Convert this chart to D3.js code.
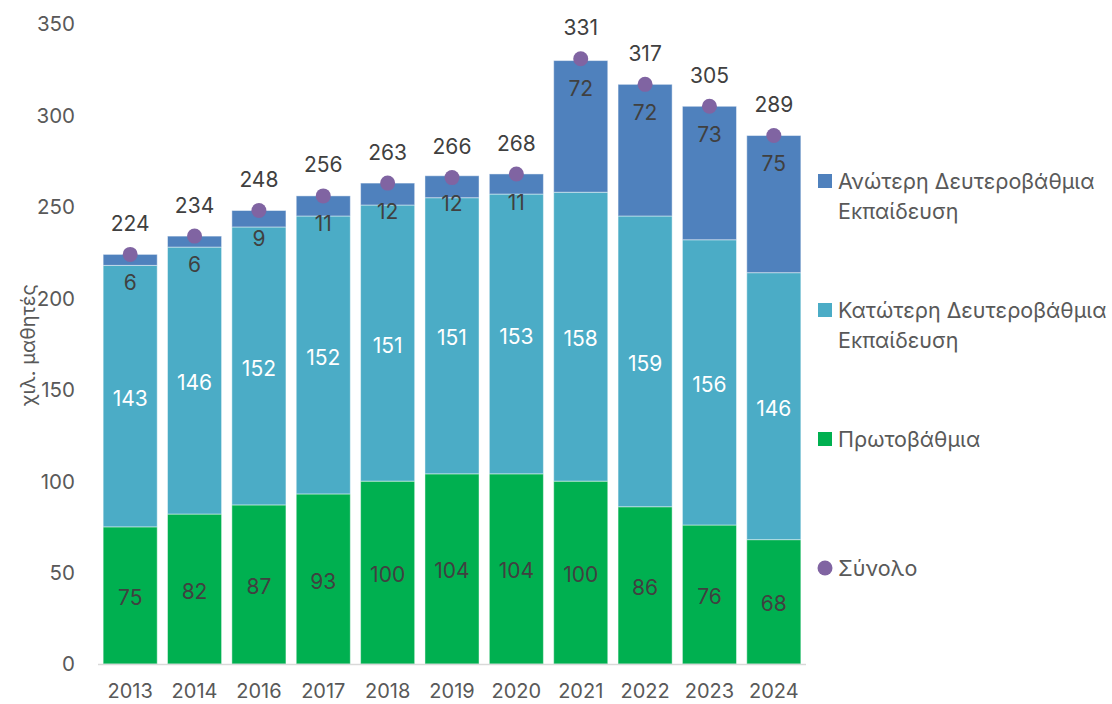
<!DOCTYPE html>
<html>
<head>
<meta charset="utf-8">
<script src="https://cdn.jsdelivr.net/npm/d3@7"></script>
<style>
  html, body { margin: 0; padding: 0; background: #ffffff; }
  svg { display: block; }
  text { font-family: Inter, "Open Sans", sans-serif; }
</style>
</head>
<body>
<svg id="chart" width="1112" height="704"></svg>
<script>
// Students by education level (thousands)
const years = ["2013", "2014", "2016", "2017", "2018", "2019", "2020", "2021", "2022", "2023", "2024"];
const primary = [75, 82, 87, 93, 100, 104, 104, 100, 86, 76, 68];
const lowerSecondary = [143, 146, 152, 152, 151, 151, 153, 158, 159, 156, 146];
const upperSecondary = [6, 6, 9, 11, 12, 12, 11, 72, 72, 73, 75];
const totals = [224, 234, 248, 256, 263, 266, 268, 331, 317, 305, 289];
const yTicks = [0, 50, 100, 150, 200, 250, 300, 350];

const colors = { upper: "#4f81bd", lower: "#4bacc6", primary: "#00b050", total: "#8064a2" };

const rows = years.map((y, i) => ({
  year: y, primary: primary[i], lower: lowerSecondary[i], upper: upperSecondary[i], total: totals[i]
}));

const svg = d3.select("#chart");
const x = d3.scaleBand().domain(years).range([98, 806]).paddingInner(0.16).paddingOuter(0.08);
const y = d3.scaleLinear().domain([0, 350]).range([664, 24]);

const layers = d3.stack().keys(["primary", "lower", "upper"])(rows);

// Y tick labels (no axis line)
svg.append("g").selectAll("text").data(yTicks).join("text")
  .attr("x", 75).attr("y", d => y(d)).attr("dy", "0.36em")
  .attr("text-anchor", "end").attr("font-size", 20.5).attr("fill", "#595959")
  .text(d => d);

// Y axis title
svg.append("text")
  .attr("transform", "translate(28,345) rotate(-90)")
  .attr("dy", "0.36em")
  .attr("text-anchor", "middle").attr("font-size", 20).attr("fill", "#595959")
  .text("χιλ. μαθητές");

// Stacked bars
const layerG = svg.append("g").selectAll("g").data(layers).join("g")
  .attr("fill", d => colors[d.key]);
layerG.selectAll("rect").data(d => d).join("rect")
  .attr("x", d => x(d.data.year))
  .attr("y", d => y(d[1]))
  .attr("width", x.bandwidth())
  .attr("height", d => y(d[0]) - y(d[1]))
  .attr("stroke", "#ffffff").attr("stroke-opacity", 0.45).attr("stroke-width", 1);

// X axis line and labels
svg.append("line")
  .attr("x1", 98).attr("x2", 806).attr("y1", 664.5).attr("y2", 664.5)
  .attr("stroke", "#d9d9d9").attr("stroke-width", 1.5);
svg.append("g").selectAll("text").data(years).join("text")
  .attr("x", d => x(d) + x.bandwidth() / 2).attr("y", 691).attr("dy", "0.36em")
  .attr("text-anchor", "middle").attr("font-size", 20).attr("fill", "#595959")
  .text(d => d);

// Segment value labels
const cx = d => x(d.year) + x.bandwidth() / 2;
svg.append("g").selectAll("text").data(rows).join("text")
  .attr("x", cx).attr("y", d => y(d.primary / 2) + 2).attr("dy", "0.36em")
  .attr("text-anchor", "middle").attr("font-size", 21).attr("fill", "#404040")
  .text(d => d.primary);
svg.append("g").selectAll("text").data(rows).join("text")
  .attr("x", cx).attr("y", d => y(d.primary + d.lower / 2) + 2).attr("dy", "0.36em")
  .attr("text-anchor", "middle").attr("font-size", 21).attr("fill", "#ffffff")
  .text(d => d.lower);
svg.append("g").selectAll("text").data(rows).join("text")
  .attr("x", cx).attr("y", d => y(d.primary + d.lower + d.upper) + 28).attr("dy", "0.36em")
  .attr("text-anchor", "middle").attr("font-size", 21).attr("fill", "#404040")
  .text(d => d.upper);

// Total markers and labels
svg.append("g").selectAll("circle").data(rows).join("circle")
  .attr("cx", cx).attr("cy", d => y(d.total)).attr("r", 7.5)
  .attr("fill", colors.total);
svg.append("g").selectAll("text").data(rows).join("text")
  .attr("x", cx).attr("y", d => y(d.total) - 31).attr("dy", "0.36em")
  .attr("text-anchor", "middle").attr("font-size", 21).attr("fill", "#404040")
  .text(d => d.total);

// Legend
const legendItems = [
  { key: "upper", lines: ["Ανώτερη Δευτεροβάθμια", "Εκπαίδευση"], y: 181 },
  { key: "lower", lines: ["Κατώτερη Δευτεροβάθμια", "Εκπαίδευση"], y: 310 },
  { key: "primary", lines: ["Πρωτοβάθμια"], y: 439 },
  { key: "total", lines: ["Σύνολο"], y: 568 }
];
const lg = svg.append("g").selectAll("g").data(legendItems).join("g");
lg.each(function(d) {
  const g = d3.select(this);
  if (d.key === "total") {
    g.append("circle").attr("cx", 825).attr("cy", d.y).attr("r", 7.5).attr("fill", colors.total);
  } else {
    g.append("rect").attr("x", 818).attr("y", d.y - 7).attr("width", 14).attr("height", 14)
      .attr("fill", colors[d.key]);
  }
  g.selectAll("text").data(d.lines).join("text")
    .attr("x", 838).attr("y", (t, i) => d.y + i * 30).attr("dy", "0.36em")
    .attr("font-size", 21.5).attr("fill", "#595959")
    .text(t => t);
});
</script>
</body>
</html>
